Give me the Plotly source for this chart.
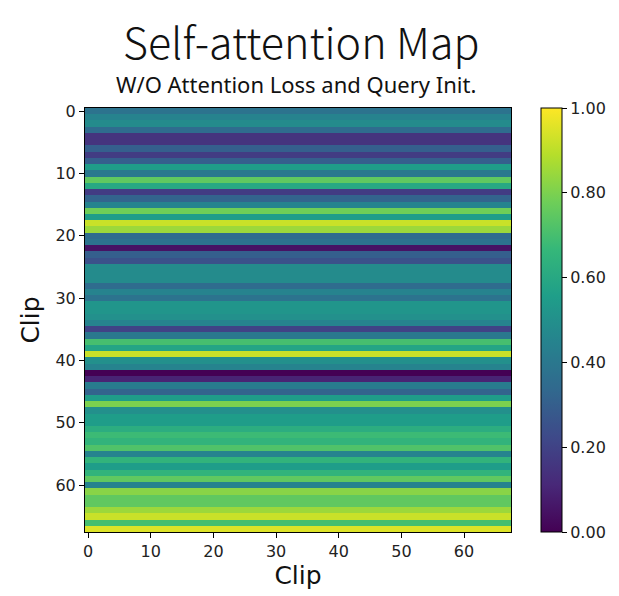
import plotly.graph_objects as go

n_clips = 68
clip_ids = list(range(n_clips))
# attention value per query row (each row roughly constant across key columns)
row_values = [
    0.38, 0.45, 0.48, 0.35, 0.15, 0.15, 0.30, 0.18, 0.30, 0.55,
    0.40, 0.75, 0.60, 0.18, 0.32, 0.45, 0.78, 0.55, 0.92, 0.85,
    0.35, 0.38, 0.05, 0.30, 0.25, 0.48, 0.48, 0.48, 0.35, 0.45,
    0.38, 0.52, 0.52, 0.50, 0.45, 0.20, 0.40, 0.70, 0.58, 0.92,
    0.50, 0.45, 0.00, 0.10, 0.42, 0.32, 0.55, 0.80, 0.50, 0.55,
    0.55, 0.62, 0.68, 0.65, 0.72, 0.45, 0.65, 0.55, 0.65, 0.75,
    0.45, 0.82, 0.75, 0.75, 0.85, 0.92, 0.70, 0.95,
]
z = [[v for _ in clip_ids] for v in row_values]
tick_vals = [0, 10, 20, 30, 40, 50, 60]
cbar_ticks = [0.0, 0.2, 0.4, 0.6, 0.8, 1.0]

# page body has an 8px margin; figure is sized to fit inside the window
OFF = 8
W, H = 619 - OFF, 596 - OFF
L, T = 85 - OFF, 108 - OFF
R, B = 108, 64
plot_w = W - L - R
plot_h = H - T - B
tick_font = dict(family="DejaVu Sans", size=16, color="#222")

fig = go.Figure(go.Heatmap(
    z=z, x=clip_ids, y=clip_ids, colorscale="Viridis", zmin=0, zmax=1,
    colorbar=dict(
        tickvals=cbar_ticks, tickformat=".2f", ticks="outside", ticklen=5,
        tickcolor="black", outlinecolor="black", outlinewidth=1,
        thickness=21, len=1, lenmode="fraction", y=0, yanchor="bottom",
        x=1 + 30 / plot_w, xanchor="left", xpad=0, ypad=0,
        tickfont=tick_font,
    ),
))

fig.update_layout(
    width=W, height=H,
    margin=dict(l=L, r=R, t=T, b=B, autoexpand=False),
    paper_bgcolor="white", plot_bgcolor="white",
    annotations=[
        dict(text="Self-attention Map", x=(301 - 85) / plot_w, y=1 + (108 - 40) / plot_h,
             xref="paper", yref="paper", xanchor="center", yanchor="middle", showarrow=False,
             font=dict(family="Noto Sans CJK SC", size=43, weight=300, color="#111")),
        dict(text="W/O Attention Loss and Query Init.", x=(296 - 85) / plot_w, y=1 + (108 - 84) / plot_h,
             xref="paper", yref="paper", xanchor="center", yanchor="middle", showarrow=False,
             font=dict(family="Noto Sans", size=22, color="#111")),
    ],
)

fig.update_xaxes(
    range=[-0.5, n_clips - 0.5], tickvals=tick_vals, ticks="outside", ticklen=5,
    tickcolor="black", showline=True, linecolor="black", mirror=True, showgrid=False,
    zeroline=False, tickfont=tick_font,
    title=dict(text="Clip", font=dict(family="DejaVu Sans", size=25, color="#111"), standoff=5),
)
fig.update_yaxes(
    range=[n_clips - 0.5, -0.5], tickvals=tick_vals, ticks="outside", ticklen=5,
    tickcolor="black", showline=True, linecolor="black", mirror=True, showgrid=False,
    zeroline=False, tickfont=tick_font,
    title=dict(text="Clip", font=dict(family="DejaVu Sans", size=25, color="#111"), standoff=8),
)

fig.write_html("out.html")
